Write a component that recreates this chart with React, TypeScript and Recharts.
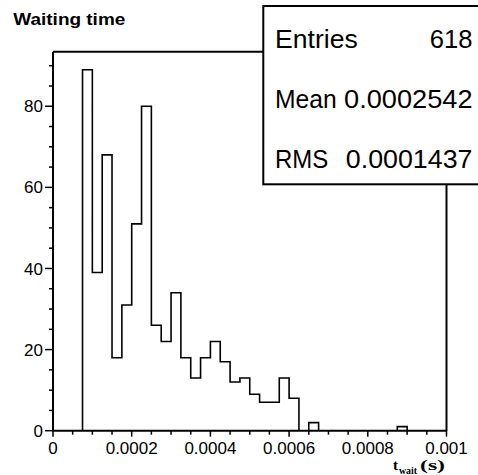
import React from 'react';
import { ComposedChart, Line, XAxis, YAxis } from 'recharts';

// histogram of waiting times, 40 bins from 0 to 0.001 s
const BIN_WIDTH = 0.000025;
const BIN_COUNTS = [
    0, 0, 0, 89, 39, 68, 18, 31, 51, 80,
    26, 22, 34, 18, 13, 18, 22, 17, 12, 13,
    9, 7, 7, 13, 8, 0, 2, 0, 0, 0,
    0, 0, 0, 0, 0, 1, 0, 0, 0, 0
];

const X_MAJOR = [0, 0.0002, 0.0004, 0.0006, 0.0008, 0.001];
const X_LABELS = ['0', '0.0002', '0.0004', '0.0006', '0.0008', '0.001'];
const Y_MAJOR = [0, 20, 40, 60, 80];
const Y_MAX = 93.45;

const STATS_LABELS = ['Entries', 'Mean', 'RMS'];
const STATS_VALUES = ['618', '0.0002542', '0.0001437'];
// widths as measured on the reference (the text there is a bit stretched)
const LABEL_W = [82.7, 61.7, 53.3];
const VALUE_W = [42.7, 128.4, 126.7];

// step points at the bin edges, last edge repeats the last bin
const data = BIN_COUNTS.map((c, i) => ({ x: i * BIN_WIDTH, count: c }));
data.push({ x: BIN_COUNTS.length * BIN_WIDTH, count: BIN_COUNTS[BIN_COUNTS.length - 1] });

const xTicks = Array.from({ length: 21 }, (_, i) => i * 0.00005);
const yTicks = Array.from({ length: 19 }, (_, i) => i * 5);

const SANS = '"Liberation Sans", Arial, Helvetica, sans-serif';
const SERIF = '"Liberation Serif", "Times New Roman", serif';

const XTick = (props: any) => {
    const { x, y, payload } = props;
    const v = payload.value;
    const idx = X_MAJOR.findIndex((m) => Math.abs(m - v) < 1e-9);
    const major = idx >= 0;
    return (
        <g>
            <line x1={x} x2={x} y1={y} y2={y + (major ? 6 : 4)} stroke="#000" strokeWidth={1.5} />
            {major && (
                <text x={x} y={y + 23} textAnchor="middle" fontSize={17} fontFamily={SANS} fill="#000">
                    {X_LABELS[idx]}
                </text>
            )}
        </g>
    );
};

const YTick = (props: any) => {
    const { x, y, payload } = props;
    const v = payload.value;
    const major = Y_MAJOR.includes(v);
    return (
        <g>
            <line x1={x - (major ? 8 : 4)} x2={x} y1={y} y2={y} stroke="#000" strokeWidth={1.5} />
            {major && (
                <text x={x - 10} y={y} dy="0.36em" textAnchor="end" fontSize={17} fontFamily={SANS} fill="#000">
                    {v}
                </text>
            )}
        </g>
    );
};

export default function App() {
    return (
        <div style={{ position: 'absolute', left: 0, top: 0, width: 478, height: 475, background: '#fff' }}>
            <ComposedChart
                width={478}
                height={475}
                data={data}
                margin={{ top: 51.7, right: 31.5, left: 8, bottom: 14.3 }}
            >
                <XAxis
                    dataKey="x"
                    type="number"
                    domain={[0, 0.001]}
                    ticks={xTicks}
                    interval={0}
                    height={30}
                    tickSize={0}
                    tickMargin={0}
                    tickLine={false}
                    axisLine={{ stroke: '#000', strokeWidth: 2 }}
                    tick={<XTick />}
                    allowDataOverflow
                />
                <YAxis
                    type="number"
                    domain={[0, Y_MAX]}
                    ticks={yTicks}
                    interval={0}
                    width={45}
                    tickSize={0}
                    tickMargin={0}
                    tickLine={false}
                    axisLine={{ stroke: '#000', strokeWidth: 2 }}
                    tick={<YTick />}
                    allowDataOverflow
                />
                <Line
                    dataKey="count"
                    type="stepAfter"
                    stroke="#000"
                    strokeWidth={1.6}
                    dot={false}
                    activeDot={false}
                    isAnimationActive={false}
                />
            </ComposedChart>

            {/* frame, title, stats box and axis title on top */}
            <svg width={478} height={475} style={{ position: 'absolute', left: 0, top: 0, pointerEvents: 'none' }}>
                <line x1={53} x2={264} y1={51.7} y2={51.7} stroke="#000" strokeWidth={2} />
                <line x1={446.5} x2={446.5} y1={184} y2={431} stroke="#000" strokeWidth={2} />

                <text x={13.3} y={25} fontSize={17} fontWeight="bold" fontFamily={SANS} textLength={112} lengthAdjust="spacingAndGlyphs">
                    Waiting time
                </text>

                <rect x={263.3} y={6} width={230} height={178.3} fill="#fff" stroke="#000" strokeWidth={2} />
                {STATS_LABELS.map((lab, i) => (
                    <g key={lab}>
                        <text x={275} y={48.3 + i * 60} fontSize={25.5} fontFamily={SANS} fill="#000"
                            textLength={LABEL_W[i]} lengthAdjust="spacingAndGlyphs">
                            {lab}
                        </text>
                        <text x={472.5 - VALUE_W[i]} y={48.3 + i * 60} fontSize={25.5} fontFamily={SANS} fill="#000"
                            textLength={VALUE_W[i]} lengthAdjust="spacingAndGlyphs">
                            {STATS_VALUES[i]}
                        </text>
                    </g>
                ))}

                <text x={393} y={470} fontSize={15} fontWeight="bold" fontFamily={SERIF} fill="#000">
                    <tspan textLength={5} lengthAdjust="spacingAndGlyphs">t</tspan>
                    <tspan fontSize={10} dy={4} dx={1} textLength={18} lengthAdjust="spacingAndGlyphs">wait</tspan>
                    <tspan fontSize={15} dy={-4} dx={3} textLength={25} lengthAdjust="spacingAndGlyphs">(s)</tspan>
                </text>
            </svg>
        </div>
    );
}
